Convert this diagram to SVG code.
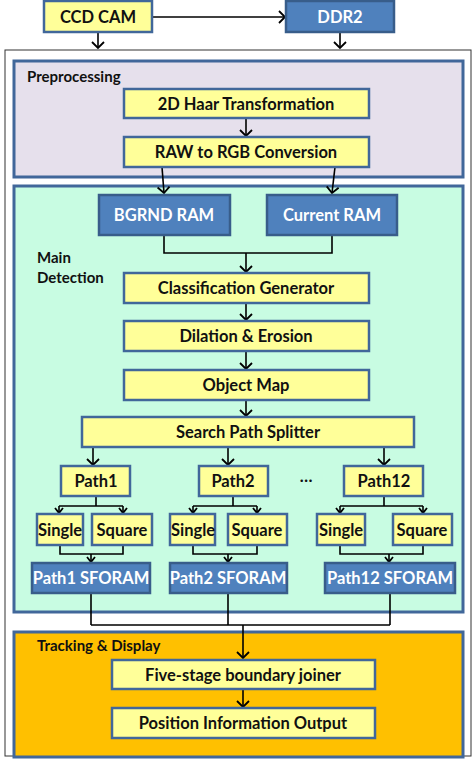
<svg xmlns="http://www.w3.org/2000/svg" width="474" height="780" viewBox="0 0 474 780">
<defs>
<style>
.y{fill:#ffff99;stroke:#41679a;stroke-width:2.5}
.b{fill:#4f81bd;stroke:#385d8a;stroke-width:2.5}
.t{font-family:Lato,"Liberation Sans",sans-serif;font-weight:bold;font-size:16.5px;fill:#111;text-anchor:middle;dominant-baseline:central}
.tw{fill:#fff}
.lbl{font-family:Lato,"Liberation Sans",sans-serif;font-weight:bold;font-size:15px;fill:#111}
.c{fill:none;stroke:#000;stroke-width:1.6}
.a{fill:none;stroke:#000;stroke-width:1.6;marker-end:url(#ah)}
.s{fill:none;stroke:#000;stroke-width:1.6;marker-end:url(#ahs)}
</style>
<marker id="ah" markerUnits="userSpaceOnUse" markerWidth="14" markerHeight="14" refX="7" refY="7" orient="auto" viewBox="0 0 14 14">
<path d="M1,1 L7,7 L1,13" fill="none" stroke="#000" stroke-width="1.8"/>
</marker>
<marker id="ahs" markerUnits="userSpaceOnUse" markerWidth="10" markerHeight="10" refX="6" refY="5" orient="auto" viewBox="0 0 10 10">
<path d="M1,1 L6,5 L1,9" fill="none" stroke="#000" stroke-width="1.8"/>
</marker>
</defs>
<rect x="0" y="0" width="474" height="780" fill="#fff"/>
<g id="system">
<rect x="5" y="50" width="466" height="706" fill="#fff" stroke="#333" stroke-width="1"/>
</g>
<g id="preprocessing">
<rect x="14" y="61" width="449" height="116" fill="#e6e0ec" stroke="#41679a" stroke-width="3"/>
<text class="lbl" x="27" y="82">Preprocessing</text>
</g>
<g id="main-detection">
<rect x="14" y="186" width="449" height="426" fill="#c8fce2" stroke="#41679a" stroke-width="3"/>
<text class="lbl" x="37" y="263">Main</text>
<text class="lbl" x="37" y="283">Detection</text>
</g>
<g id="tracking-display">
<rect x="14" y="632" width="449" height="125" fill="#ffc000" stroke="#41679a" stroke-width="3"/>
<text class="lbl" x="37" y="651">Tracking &amp; Display</text>
</g>
<g id="connectors">
<path class="a" d="M152,17 H285"/>
<path class="a" d="M98,32 V48"/>
<path class="a" d="M340,32 V48"/>
<path class="a" d="M246,118 V136"/>
<path class="a" d="M162,167 L164,193"/>
<path class="a" d="M335,167 L332,193"/>
<path class="c" d="M164,235 V253 H332 V235"/>
<path class="a" d="M246,253 V272"/>
<path class="a" d="M246,303 V320"/>
<path class="a" d="M246,351 V369"/>
<path class="a" d="M246,400 V416"/>
<path class="a" d="M93,447 V465"/>
<path class="a" d="M228,447 V465"/>
<path class="a" d="M384,447 V465"/>
<path class="c" d="M96,496 V506 M59,506 H123 M233,496 V506 M193,506 H257 M384,496 V506 M340,506 H423"/>
<path class="s" d="M59,506 V513"/>
<path class="s" d="M123,506 V513"/>
<path class="s" d="M193,506 V513"/>
<path class="s" d="M257,506 V513"/>
<path class="s" d="M340,506 V513"/>
<path class="s" d="M423,506 V513"/>
<path class="c" d="M60,545 V554 H123 V545 M193,545 V554 H257 V545 M340,545 V554 H423 V545"/>
<path class="s" d="M91,554 V562"/>
<path class="s" d="M228,554 V562"/>
<path class="s" d="M389,554 V562"/>
<path class="c" d="M91,593 V625 M228,593 V625 M390,593 V625 M91,625 H390"/>
<path class="a" d="M243,625 V658"/>
<path class="a" d="M243,689 V707"/>
</g>
<g id="ccd-cam"><rect class="y" x="44" y="1" width="108" height="31"/><text class="t" x="98" y="17">CCD CAM</text></g>
<g id="ddr2"><rect class="b" x="286" y="1" width="108" height="31"/><text class="t tw" x="340" y="17">DDR2</text></g>
<g id="haar"><rect class="y" x="124" y="89" width="245" height="29"/><text class="t" x="246" y="104">2D Haar Transformation</text></g>
<g id="raw-rgb"><rect class="y" x="124" y="137" width="245" height="30"/><text class="t" x="246" y="152">RAW to RGB Conversion</text></g>
<g id="bgrnd-ram"><rect class="b" x="99" y="195" width="131" height="40"/><text class="t tw" x="164" y="215">BGRND RAM</text></g>
<g id="current-ram"><rect class="b" x="267" y="195" width="130" height="40"/><text class="t tw" x="332" y="215">Current RAM</text></g>
<g id="class-gen"><rect class="y" x="124" y="273" width="245" height="30"/><text class="t" x="246" y="288">Classification Generator</text></g>
<g id="dilation"><rect class="y" x="124" y="321" width="245" height="30"/><text class="t" x="246" y="336">Dilation &amp; Erosion</text></g>
<g id="object-map"><rect class="y" x="124" y="370" width="245" height="30"/><text class="t" x="246" y="385">Object Map</text></g>
<g id="splitter"><rect class="y" x="82" y="417" width="332" height="30"/><text class="t" x="248" y="432">Search Path Splitter</text></g>
<g id="path1"><rect class="y" x="61" y="466" width="69" height="30"/><text class="t" x="96" y="481">Path1</text></g>
<g id="path2"><rect class="y" x="199" y="466" width="69" height="30"/><text class="t" x="233" y="481">Path2</text></g>
<g id="ellipsis"><text class="t" x="306" y="476">…</text></g>
<g id="path12"><rect class="y" x="344" y="466" width="79" height="30"/><text class="t" x="384" y="481">Path12</text></g>
<g id="single1"><rect class="y" x="37" y="514" width="46" height="31"/><text class="t" x="60" y="530">Single</text></g>
<g id="square1"><rect class="y" x="92" y="514" width="60" height="31"/><text class="t" x="122" y="530">Square</text></g>
<g id="single2"><rect class="y" x="170" y="514" width="45" height="31"/><text class="t" x="193" y="530">Single</text></g>
<g id="square2"><rect class="y" x="228" y="514" width="59" height="31"/><text class="t" x="257" y="530">Square</text></g>
<g id="single12"><rect class="y" x="317" y="514" width="48" height="31"/><text class="t" x="341" y="530">Single</text></g>
<g id="square12"><rect class="y" x="393" y="514" width="59" height="31"/><text class="t" x="422" y="530">Square</text></g>
<g id="sforam1"><rect class="b" x="32" y="563" width="118" height="30"/><text class="t tw" x="91" y="578">Path1 SFORAM</text></g>
<g id="sforam2"><rect class="b" x="170" y="563" width="117" height="30"/><text class="t tw" x="228" y="578">Path2 SFORAM</text></g>
<g id="sforam12"><rect class="b" x="325" y="563" width="130" height="30"/><text class="t tw" x="390" y="578">Path12 SFORAM</text></g>
<g id="joiner"><rect class="y" x="112" y="660" width="263" height="29"/><text class="t" x="243" y="675">Five-stage boundary joiner</text></g>
<g id="position-out"><rect class="y" x="112" y="708" width="263" height="30"/><text class="t" x="243" y="723">Position Information Output</text></g>
</svg>
